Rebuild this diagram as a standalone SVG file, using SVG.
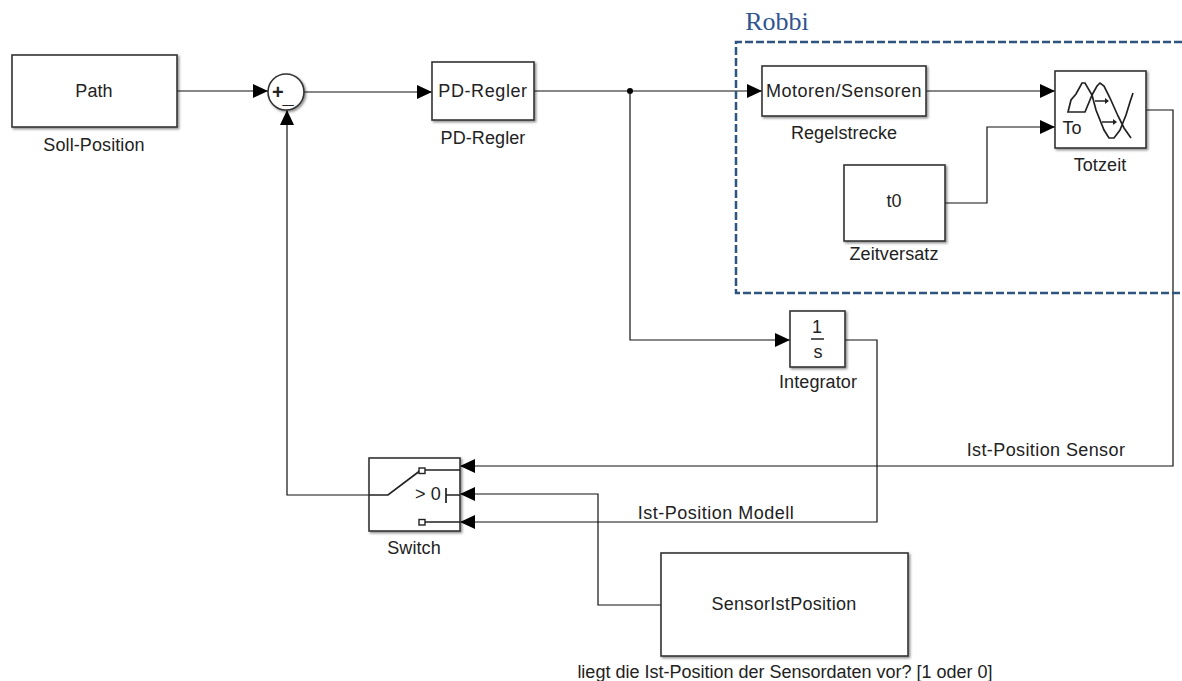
<svg xmlns="http://www.w3.org/2000/svg" width="1182" height="681" viewBox="0 0 1182 681">
<style>
text{font-family:"Liberation Sans",Arial,sans-serif;font-size:18px;fill:#222;text-anchor:middle;letter-spacing:.1px}
.b{fill:#fff;stroke:#333;stroke-width:1.6;filter:url(#s)}
.c{fill:none;stroke:#111;stroke-width:1.2}
.i{fill:none;stroke:#222;stroke-width:1.7}
</style>
<defs>
<filter id="s" x="-10%" y="-10%" width="125%" height="125%"><feDropShadow dx="1.5" dy="1.5" stdDeviation="1" flood-color="#000" flood-opacity="0.45"/></filter>
<marker id="ar" markerUnits="userSpaceOnUse" markerWidth="15" markerHeight="14" refX="15" refY="7" orient="auto"><path d="M0 0L15 7L0 14Z" fill="#000"/></marker>
</defs>
<g id="connectors">
<path class="c" d="M177 91H268" marker-end="url(#ar)"/>
<path class="c" d="M304 92H432" marker-end="url(#ar)"/>
<path class="c" d="M534 91H762" marker-end="url(#ar)"/>
<circle cx="630" cy="91" r="3" fill="#000"/>
<path class="c" d="M630 91V340H790" marker-end="url(#ar)"/>
<path class="c" d="M926 91H1055" marker-end="url(#ar)"/>
<path class="c" d="M945 203H987V127H1055" marker-end="url(#ar)"/>
<path class="c" d="M1146 110H1173V466H460" marker-end="url(#ar)"/>
<path class="c" d="M845 340H877V522H460" marker-end="url(#ar)"/>
<path class="c" d="M661 605H598V494H460" marker-end="url(#ar)"/>
<path class="c" d="M369 495H287V110" marker-end="url(#ar)"/>
</g>
<path d="M1182 42H736V293H1182" fill="none" stroke="#2F5480" stroke-width="2.5" stroke-dasharray="8 3"/>
<text x="777" y="30" style="font-family:'Liberation Serif',serif;font-size:26px;fill:#2F5590;letter-spacing:0">Robbi</text>
<g id="path"><rect class="b" x="12" y="55" width="165" height="72"/><text x="94" y="97">Path</text><text x="94" y="151">Soll-Position</text></g>
<g id="sum"><circle class="b" cx="286" cy="92" r="18"/><text x="278" y="99" style="font-size:20px;font-weight:bold">+</text><text x="288" y="103" style="font-size:20px;font-weight:bold">_</text></g>
<g id="pd"><rect class="b" x="432" y="62" width="102" height="58"/><text x="483" y="97" style="letter-spacing:.6px">PD-Regler</text><text x="483" y="144">PD-Regler</text></g>
<g id="motor"><rect class="b" x="762" y="66" width="164" height="50"/><text x="844" y="97" style="letter-spacing:.5px">Motoren/Sensoren</text><text x="844" y="139">Regelstrecke</text></g>
<g id="totzeit"><rect class="b" x="1055" y="71" width="91" height="77"/>
<path class="i" d="M1068 112L1071 100L1076 94L1082 83L1085 83L1092 95L1085 112ZM1092 95L1097 86L1100 83L1104 86L1110 98L1118 116L1124 128L1131 138M1092 95L1096 110L1104 130L1109 138L1114 138L1120 130L1126 115L1130 102L1133 93"/>
<path d="M1095 101H1106" stroke="#222" stroke-width="1.5"/><path d="M1105 98L1109 101L1105 104Z" fill="#222"/>
<path d="M1102 122H1114" stroke="#222" stroke-width="1.5"/><path d="M1113 119L1117 122L1113 125Z" fill="#222"/>
<text x="1072" y="134">To</text><text x="1100" y="171">Totzeit</text></g>
<g id="t0"><rect class="b" x="844" y="165" width="101" height="76"/><text x="894" y="207">t0</text><text x="894" y="260">Zeitversatz</text></g>
<g id="integrator"><rect class="b" x="790" y="311" width="55" height="56"/><text x="817" y="333">1</text><path d="M811 339H824" stroke="#222" stroke-width="1.5"/><text x="818" y="358">s</text><text x="818" y="388">Integrator</text></g>
<g id="switch"><rect class="b" x="369" y="458" width="91" height="73"/>
<path class="i" d="M369 495H388L421 470M424 470H460M424 522H460M446 495H460M446 488V503"/>
<rect x="419" y="468" width="6" height="5.500" fill="#fff" stroke="#222" stroke-width="1.4"/><rect x="419" y="519.500" width="6" height="5.500" fill="#fff" stroke="#222" stroke-width="1.4"/>
<text x="428" y="500">&gt; 0</text><text x="414" y="554">Switch</text></g>
<g id="sensor"><rect class="b" x="661" y="553" width="247" height="103"/><text x="784" y="610" style="letter-spacing:.3px">SensorIstPosition</text><text x="785" y="678" style="letter-spacing:0">liegt die Ist-Position der Sensordaten vor? [1 oder 0]</text></g>
<text x="1046" y="456" style="letter-spacing:.4px">Ist-Position Sensor</text>
<text x="716" y="519" style="letter-spacing:.5px">Ist-Position Modell</text>
</svg>
